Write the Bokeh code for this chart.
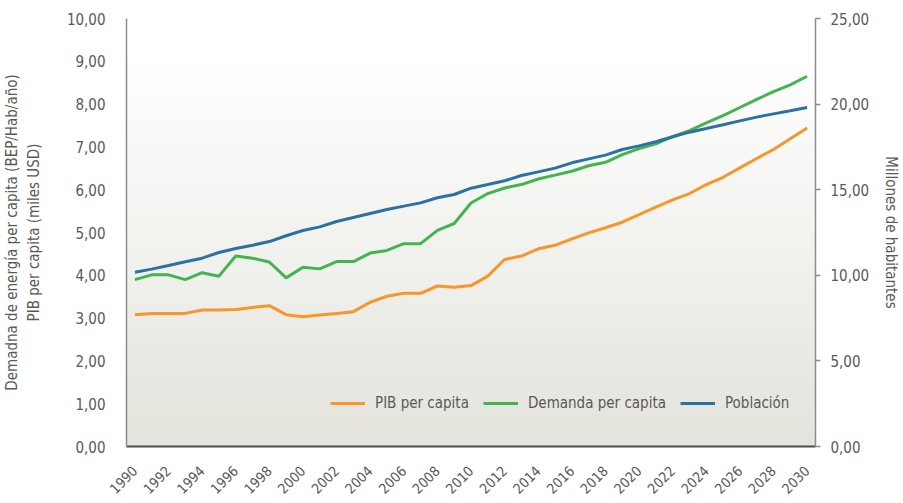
import numpy as np
from bokeh.plotting import figure
from bokeh.models import (Range1d, LinearAxis, FixedTicker, Legend, LegendItem)
from bokeh.embed import file_html
from bokeh.resources import INLINE

years = list(range(1990, 2031))

pib = [3.08, 3.11, 3.11, 3.11, 3.19, 3.19, 3.20, 3.25, 3.29, 3.08,
       3.03, 3.07, 3.11, 3.15, 3.37, 3.51, 3.58, 3.58, 3.75, 3.72,
       3.76, 3.98, 4.37, 4.45, 4.62, 4.70, 4.85, 4.99, 5.11, 5.24,
       5.42, 5.59, 5.76, 5.91, 6.12, 6.29, 6.51, 6.73, 6.94, 7.19, 7.44]

demanda = [3.90, 4.01, 4.01, 3.90, 4.06, 3.98, 4.45, 4.40, 4.31, 3.94,
           4.19, 4.15, 4.32, 4.32, 4.52, 4.58, 4.74, 4.74, 5.05, 5.21,
           5.69, 5.91, 6.04, 6.12, 6.25, 6.34, 6.43, 6.56, 6.64, 6.82,
           6.96, 7.07, 7.24, 7.38, 7.56, 7.73, 7.92, 8.11, 8.29, 8.45, 8.65]

poblacion = [10.18, 10.36, 10.57, 10.79, 11.00, 11.33, 11.57, 11.76, 11.97, 12.31,
             12.62, 12.83, 13.14, 13.38, 13.61, 13.84, 14.04, 14.23, 14.53, 14.72,
             15.09, 15.30, 15.52, 15.83, 16.04, 16.26, 16.57, 16.80, 17.02, 17.35,
             17.56, 17.80, 18.09, 18.36, 18.57, 18.79, 19.02, 19.24, 19.43, 19.61, 19.80]

left_ticks = list(range(0, 11))
right_ticks = [0, 5, 10, 15, 20, 25]
x_ticks = list(range(1990, 2031, 2))

FONT = "'DejaVu Sans Condensed', 'DejaVu Sans', sans-serif"
TXT = "#595959"

x0, x1 = years[0] - 0.5, years[-1] + 0.5
p = figure(width=903, height=503, output_backend="svg", toolbar_location=None,
           x_range=Range1d(x0, x1), y_range=Range1d(0, 10),
           min_border_left=126, min_border_right=87, min_border_top=18, min_border_bottom=57)
p.extra_y_ranges = {"pop": Range1d(0, 25)}
p.outline_line_color = None
p.xgrid.visible = False
p.ygrid.visible = False
p.background_fill_color = "white"
p.border_fill_color = "white"

# vertical gradient background
n = 200
t = np.linspace(0, 1, n)  # 0 bottom -> 1 top
c_bot = np.array([228, 228, 221])
c_top = np.array([255, 255, 255])
img = np.zeros((n, 1), dtype=np.uint32)
view = img.view(dtype=np.uint8).reshape((n, 1, 4))
for i in range(n):
    f = min(1.0, t[i] / 0.9)
    c = c_bot + (c_top - c_bot) * f
    view[i, 0, 0] = int(c[0]); view[i, 0, 1] = int(c[1]); view[i, 0, 2] = int(c[2]); view[i, 0, 3] = 255
p.image_rgba(image=[img], x=x0, y=0, dw=x1 - x0, dh=10)

r_pib = p.line(years, pib, line_color="#F7962A", line_width=3)
r_dem = p.line(years, demanda, line_color="#43B450", line_width=3)
r_pop = p.line(years, poblacion, line_color="#2B72A3", line_width=3, y_range_name="pop")

# left axis
ya = p.yaxis[0]
ya.ticker = FixedTicker(ticks=left_ticks)
ya.major_label_overrides = {v: f"{v},00" for v in left_ticks}
ya.major_tick_line_color = None
ya.minor_tick_line_color = None
ya.axis_line_color = "#8c8c8c"
ya.axis_line_width = 1.5
ya.major_label_text_font = FONT
ya.major_label_text_font_size = "15px"
ya.major_label_text_color = TXT
ya.major_label_standoff = 15
ya.axis_label = "Demadna de energía per capita (BEP/Hab/año)\nPIB per capita (miles USD)"
ya.axis_label_text_font = FONT
ya.axis_label_text_font_size = "15px"
ya.axis_label_text_font_style = "normal"
ya.axis_label_text_color = TXT
ya.axis_label_standoff = 21

# bottom axis
xa = p.xaxis[0]
xa.ticker = FixedTicker(ticks=x_ticks)
xa.major_label_overrides = {v: str(v) for v in x_ticks}
xa.major_label_orientation = np.pi / 4
xa.major_tick_line_color = None
xa.minor_tick_line_color = None
xa.axis_line_color = "#4d4d4d"
xa.axis_line_width = 2
xa.major_label_text_font = FONT
xa.major_label_text_font_size = "14px"
xa.major_label_text_color = TXT
xa.major_label_standoff = 16

# right axis
ra = LinearAxis(y_range_name="pop", ticker=FixedTicker(ticks=right_ticks))
ra.major_label_overrides = {v: f"{v},00" for v in right_ticks}
ra.minor_tick_line_color = None
ra.major_tick_in = 0
ra.major_tick_out = 5
ra.major_tick_line_color = "#8c8c8c"
ra.major_tick_line_width = 1.5
ra.axis_line_color = "#8c8c8c"
ra.axis_line_width = 1.5
ra.major_label_text_font = FONT
ra.major_label_text_font_size = "15px"
ra.major_label_text_color = TXT
ra.major_label_standoff = 10
ra.axis_label = "Millones de habitantes"
ra.axis_label_text_font = FONT
ra.axis_label_text_font_size = "15px"
ra.axis_label_text_font_style = "normal"
ra.axis_label_text_color = TXT
ra.axis_label_standoff = 10
p.add_layout(ra, "right")

legend = Legend(items=[LegendItem(label="PIB per capita", renderers=[r_pib]),
                       LegendItem(label="Demanda per capita", renderers=[r_dem]),
                       LegendItem(label="Población", renderers=[r_pop])],
                orientation="horizontal", location=(204, 33),
                background_fill_alpha=0, border_line_color=None,
                label_text_font=FONT, label_text_font_size="15px",
                label_text_color=TXT, glyph_width=35, label_standoff=10,
                spacing=14, padding=4, margin=0)
p.add_layout(legend, "center")

open("out.html", "w").write(file_html(p, INLINE))
